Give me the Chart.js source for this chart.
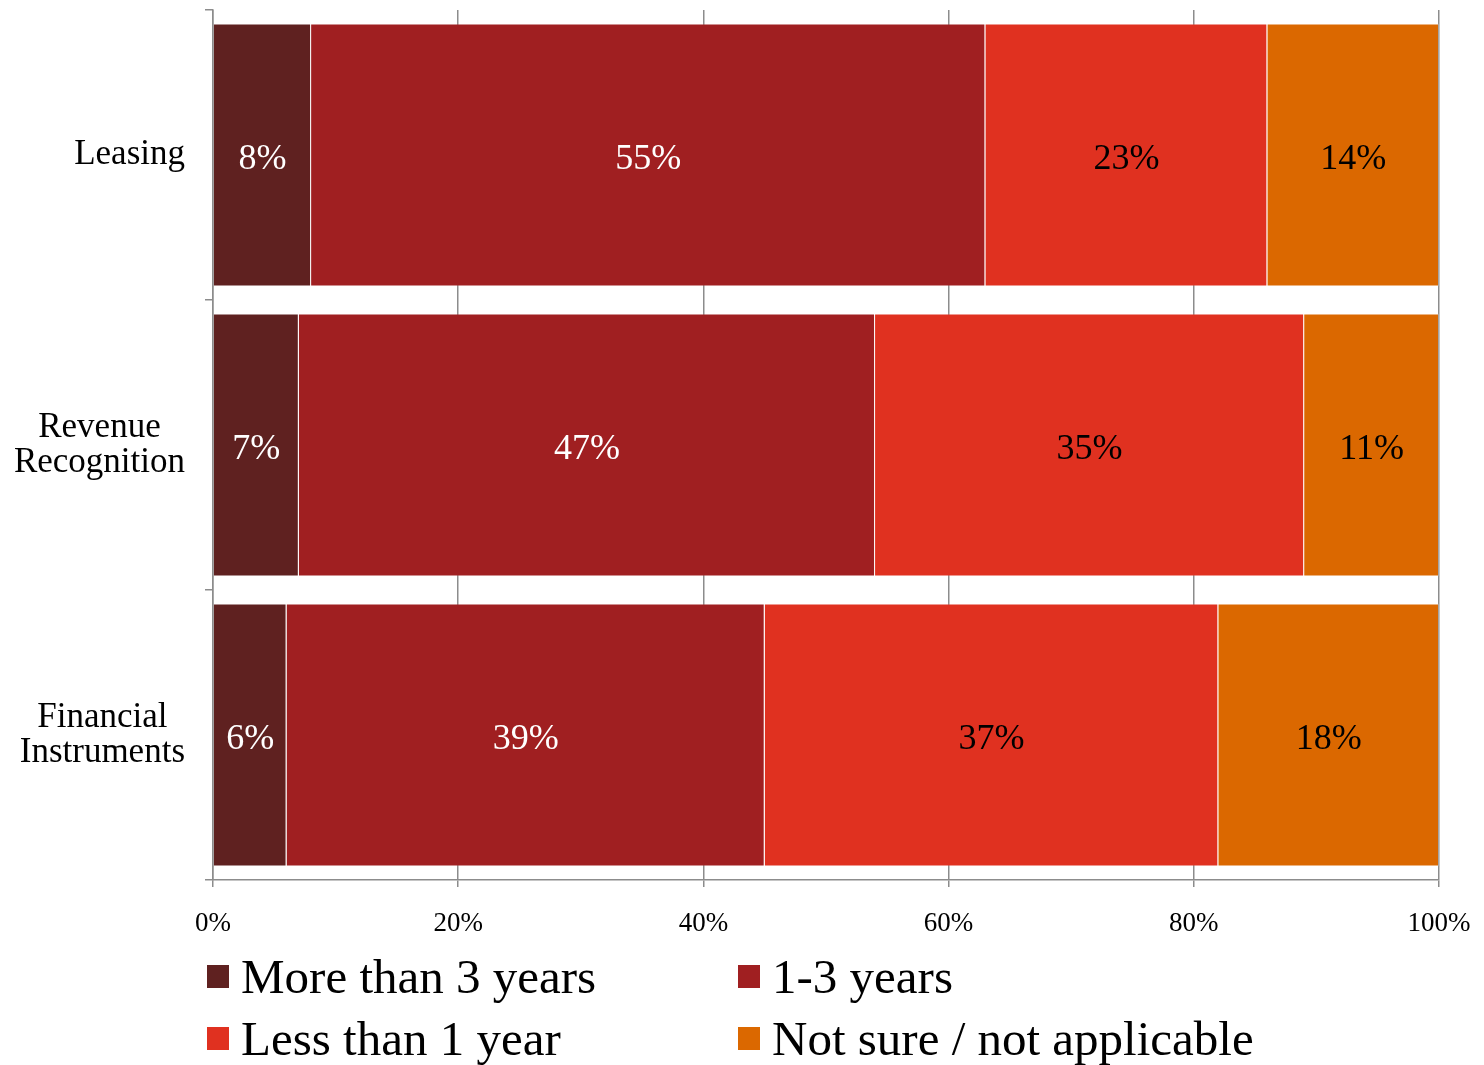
<!DOCTYPE html>
<html>
<head>
<meta charset="utf-8">
<title>Implementation timeline</title>
<script src="https://cdn.jsdelivr.net/npm/chart.js"></script>
<style>
  html, body { margin: 0; padding: 0; background: #ffffff; }
  #timeChart { display: block; }
</style>
</head>
<body>
<canvas id="timeChart" width="1484" height="1065"></canvas>
<script>
// Categories (multi-line labels) and the four answer groups, in percent
const categories = [['Leasing'], ['Revenue', 'Recognition'], ['Financial', 'Instruments']];
const seriesNames = ['More than 3 years', '1-3 years', 'Less than 1 year', 'Not sure / not applicable'];
const moreThan3 = [8, 7, 6];
const oneToThree = [55, 47, 39];
const lessThan1 = [23, 35, 37];
const notSure = [14, 11, 18];
const xTicks = [0, 20, 40, 60, 80, 100];

const seriesColors = ['#5F2120', '#A01F21', '#E03120', '#DB6800'];
const labelColors = ['#ffffff', '#ffffff', '#000000', '#000000'];
const FONT = '"Liberation Serif", "DejaVu Serif", serif';

// Category labels: each block right aligned, its lines centred on each other
const categoryLabels = {
    id: 'categoryLabels',
    afterDraw(chart) {
        const ctx = chart.ctx;
        const yScale = chart.scales.y;
        const rightEdge = 185;
        const lineHeight = 35;
        ctx.save();
        ctx.font = '35px ' + FONT;
        ctx.fillStyle = '#000000';
        ctx.textAlign = 'center';
        ctx.textBaseline = 'middle';
        categories.forEach((lines, i) => {
            const widest = Math.max(...lines.map(l => ctx.measureText(l).width));
            const cx = rightEdge - widest / 2;
            const cy = yScale.getPixelForValue(i);
            const top = cy - (lines.length - 1) * lineHeight / 2;
            lines.forEach((l, j) => ctx.fillText(l, cx, top + j * lineHeight));
        });
        ctx.restore();
    }
};

// Percent labels in the middle of every segment
const segmentLabels = {
    id: 'segmentLabels',
    afterDatasetsDraw(chart) {
        const ctx = chart.ctx;
        ctx.save();
        ctx.font = '36px ' + FONT;
        ctx.textAlign = 'center';
        ctx.textBaseline = 'middle';
        chart.data.datasets.forEach((ds, di) => {
            const meta = chart.getDatasetMeta(di);
            ctx.fillStyle = labelColors[di];
            meta.data.forEach((bar, i) => {
                ctx.fillText(ds.data[i] + '%', (bar.x + bar.base) / 2, bar.y + 5);
            });
        });
        ctx.restore();
    }
};

// Two-column legend under the axis
const bottomLegend = {
    id: 'bottomLegend',
    afterDraw(chart) {
        const ctx = chart.ctx;
        const cols = [207, 738];
        const rows = [993, 1055];
        ctx.save();
        ctx.font = '49px ' + FONT;
        ctx.textAlign = 'left';
        ctx.textBaseline = 'alphabetic';
        chart.data.datasets.forEach((ds, i) => {
            const x = cols[i % 2];
            const y = rows[Math.floor(i / 2)];
            ctx.fillStyle = ds.backgroundColor;
            ctx.fillRect(x, y - 28, 22, 23);
            ctx.fillStyle = '#000000';
            ctx.fillText(ds.label, x + 34, y);
        });
        ctx.restore();
    }
};

const seriesValues = [moreThan3, oneToThree, lessThan1, notSure];

const data = {
    labels: categories,
    datasets: seriesNames.map((name, i) => ({
        label: name,
        data: seriesValues[i],
        backgroundColor: seriesColors[i],
        borderColor: 'rgba(255, 255, 255, 0.2)',
        borderWidth: 1,
        barPercentage: 1,
        categoryPercentage: 0.907
    }))
};

const config = {
    type: 'bar',
    data: data,
    options: {
        indexAxis: 'y',
        responsive: false,
        animation: false,
        layout: { padding: { top: 10, right: 45, left: 0, bottom: 0 } },
        plugins: {
            legend: { display: false },
            tooltip: { enabled: false }
        },
        scales: {
            x: {
                stacked: true,
                min: 0,
                max: 100,
                afterBuildTicks: (scale) => { scale.ticks = xTicks.map(v => ({ value: v })); },
                afterFit: (scale) => {
                    scale.height = 185;
                    // let the layout padding alone decide the right margin
                    scale.paddingLeft = 0;
                    scale.paddingRight = 0;
                },
                ticks: {
                    callback: (v) => v + '%',
                    color: '#000000',
                    font: { family: FONT, size: 27 },
                    padding: 21,
                    maxRotation: 0
                },
                grid: {
                    color: '#8c8c8c',
                    lineWidth: 1.5,
                    tickLength: 7
                },
                border: { color: '#8c8c8c', width: 1.5 }
            },
            y: {
                stacked: true,
                afterFit: (scale) => { scale.width = 213; },
                ticks: { display: false },
                grid: {
                    offset: true,
                    drawOnChartArea: false,
                    color: '#8c8c8c',
                    lineWidth: 1.5,
                    tickLength: 8
                },
                border: { color: '#8c8c8c', width: 1.5 }
            }
        }
    },
    plugins: [segmentLabels, categoryLabels, bottomLegend]
};

document.addEventListener('DOMContentLoaded', () => {
    const ctx = document.getElementById('timeChart').getContext('2d');
    new Chart(ctx, config);
});
</script>
</body>
</html>
